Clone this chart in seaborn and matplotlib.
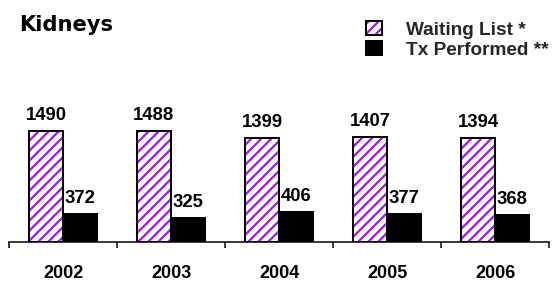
import numpy as np
import pandas as pd
import matplotlib
matplotlib.use("Agg")
import matplotlib.pyplot as plt
import matplotlib.colors as mcolors
import seaborn as sns
from matplotlib.patches import Patch

years = ["2002", "2003", "2004", "2005", "2006"]
waiting_list = [1490, 1488, 1399, 1407, 1394]
tx_performed = [372, 325, 406, 377, 368]
series_names = ["Waiting List *", "Tx Performed **"]
title = "Kidneys"

HATCH_COLOR = "#9A1FD6"

sns.set_theme(style="white")
plt.rcParams["font.family"] = ["Liberation Sans", "DejaVu Sans"]
plt.rcParams["hatch.color"] = HATCH_COLOR
plt.rcParams["hatch.linewidth"] = 1.35

DPI = 120
W, H = 560, 282
fig = plt.figure(figsize=(W / DPI, H / DPI), dpi=DPI)
fig.patch.set_facecolor("white")

def px2pt(p):
    return p * 72.0 / DPI

def purple_hatch(patch):
    patch.set_hatch("////")
    patch._hatch_color = mcolors.to_rgba(HATCH_COLOR)

ax_left, ax_right = 9, 549
ax_bottom, ax_top = 242, 60
ax = fig.add_axes([ax_left / W, 1 - ax_bottom / H, (ax_right - ax_left) / W, (ax_bottom - ax_top) / H])

df = pd.DataFrame({
    "year": years * 2,
    "value": waiting_list + tx_performed,
    "series": [series_names[0]] * len(years) + [series_names[1]] * len(years),
})

sns.barplot(data=df, x="year", y="value", hue="series", order=years,
            hue_order=series_names, palette=["white", "black"], width=0.63,
            gap=0, edgecolor="black", linewidth=px2pt(2), saturation=1,
            errorbar=None, ax=ax, legend=False)

for patch in ax.containers[0]:
    purple_hatch(patch)

for cont in ax.containers:
    ax.bar_label(cont, padding=px2pt(7), fontsize=px2pt(18.5), fontweight="bold", color="black")

ax.set_xlim(-0.5, len(years) - 0.5)
ax.set_ylim(0, max(waiting_list) * 182 / 111)
ax.set_xlabel("")
ax.set_ylabel("")
ax.set_yticks([])
for s in ["top", "right", "left"]:
    ax.spines[s].set_visible(False)
ax.spines["bottom"].set_color("black")
ax.spines["bottom"].set_linewidth(px2pt(1.5))

ax.set_xticks(range(len(years)))
ax.set_xticklabels(years, fontsize=px2pt(18), fontweight="bold", color="black")
ax.tick_params(axis="x", which="major", length=0, pad=px2pt(23.5))
ax.set_xticks(np.arange(-0.5, len(years) + 0.5, 1), minor=True)
ax.tick_params(axis="x", which="minor", length=px2pt(6), width=px2pt(1.5),
               color="black", direction="out", bottom=True)

fig.text(19 / W, 1 - 30.7 / H, title, fontsize=px2pt(21), fontweight="bold",
         family=["DejaVu Sans"], va="baseline", ha="left", color="black")

h1 = Patch(facecolor="white", edgecolor="black", linewidth=px2pt(2))
purple_hatch(h1)
h2 = Patch(facecolor="black", edgecolor="black", linewidth=px2pt(2))
leg = fig.legend([h1, h2], series_names, loc="upper left",
                 bbox_to_anchor=(366 / W, 1 - 21 / H), frameon=False,
                 prop={"size": px2pt(19), "weight": "bold"},
                 handlelength=16 / 19, handleheight=15 / 19,
                 handletextpad=24 / 19, labelspacing=0.1,
                 borderpad=0, borderaxespad=0)
for h in leg.legend_handles:
    if h.get_hatch():
        h._hatch_color = mcolors.to_rgba(HATCH_COLOR)

fig.savefig("out.png", dpi=DPI, facecolor="white")
